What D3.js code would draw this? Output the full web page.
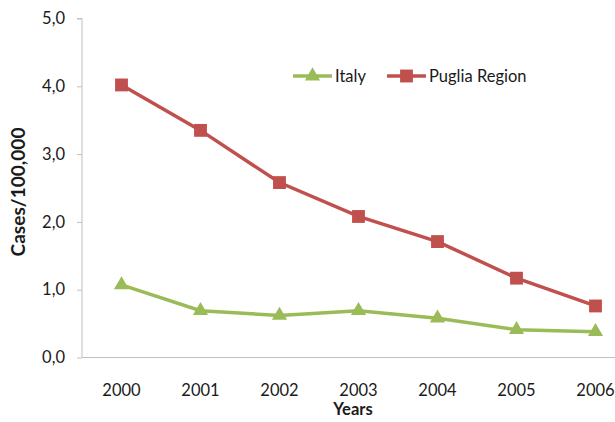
<!DOCTYPE html>
<html><head><meta charset="utf-8">
<script src="https://cdn.jsdelivr.net/npm/d3@7"></script>
<style>body{margin:0;background:#fff}svg{display:block;font-family:Lato,"Open Sans",sans-serif}</style>
</head><body><svg id="c" width="615" height="422"></svg>
<script>
const years = ["2000","2001","2002","2003","2004","2005","2006"];
const italy = [1.07,0.69,0.62,0.69,0.58,0.41,0.38];
const puglia = [4.02,3.35,2.58,2.08,1.71,1.17,0.76];
const yTicks = [0,1,2,3,4,5];
const seriesNames = ["Italy","Puglia Region"];

const FS = 16.5;
const svg = d3.select("#c");
const x = d3.scaleBand().domain(years).range([82,635]);
const y = d3.scaleLinear().domain([0,5]).range([357.5,18.5]);
const fmt = d => d3.format(".1f")(d).replace(".",",");

// axes
const ya = svg.append("g").attr("transform","translate(82,0)")
  .call(d3.axisLeft(y).tickValues(yTicks).tickFormat(fmt).tickSize(5).tickPadding(12));
ya.select(".domain").attr("stroke","#bfbfbf").attr("d","M-5,18.5H0V357.5");
ya.selectAll(".tick line").attr("stroke","#bfbfbf");
ya.selectAll("text").attr("font-size",FS).attr("fill","#1a1a1a").attr("font-family","Lato,'Open Sans',sans-serif");

const xa = svg.append("g").attr("transform","translate(0,357.5)")
  .call(d3.axisBottom(x).tickSize(0).tickPadding(27));
xa.select(".domain").attr("stroke","#bfbfbf").attr("d","M82,0H615");
xa.selectAll("text").attr("font-size",FS).attr("fill","#1a1a1a").attr("font-family","Lato,'Open Sans',sans-serif");

svg.append("text").attr("x",353).attr("y",415).attr("text-anchor","middle")
  .attr("font-size",FS).attr("font-weight","bold").attr("fill","#1a1a1a").text("Years");
const yl = svg.append("text").attr("transform","translate(25,192) rotate(-90)").attr("text-anchor","middle")
  .attr("font-size",FS).attr("font-weight","bold").attr("fill","#1a1a1a").text("Cases/100,000");
const len = yl.node().getComputedTextLength();
if (len > 0) yl.attr("font-size", FS * 129 / len);

const cx = d => x(d) + x.bandwidth()/2;
const line = d3.line().x((d,i)=>cx(years[i])).y(d=>y(d));
const green = "#9bbb59", red = "#c0504d";
const tri = d3.symbol().type(d3.symbolTriangle).size(100);
const sq = d3.symbol().type(d3.symbolSquare).size(165);

svg.append("path").datum(puglia).attr("d",line).attr("fill","none").attr("stroke",red).attr("stroke-width",3.5);
svg.append("path").datum(italy).attr("d",line).attr("fill","none").attr("stroke",green).attr("stroke-width",3.5);
svg.selectAll(".pm").data(puglia).enter().append("path")
  .attr("d",sq).attr("fill",red).attr("transform",(d,i)=>`translate(${cx(years[i])},${y(d)})`);
svg.selectAll(".im").data(italy).enter().append("path")
  .attr("d",tri).attr("fill",green).attr("transform",(d,i)=>`translate(${cx(years[i])},${y(d)})`);

// legend
const leg = [{n:seriesNames[0],c:green,s:tri,x:293},{n:seriesNames[1],c:red,s:sq,x:387}];
leg.forEach(l=>{
  svg.append("line").attr("x1",l.x).attr("x2",l.x+39).attr("y1",76).attr("y2",76).attr("stroke",l.c).attr("stroke-width",3.5);
  svg.append("path").attr("d",l.s).attr("fill",l.c).attr("transform",`translate(${l.x+19.5},76)`);
  svg.append("text").attr("x",l.x+42).attr("y",82).attr("font-size",FS).attr("fill","#1a1a1a").text(l.n);
});
</script></body></html>
